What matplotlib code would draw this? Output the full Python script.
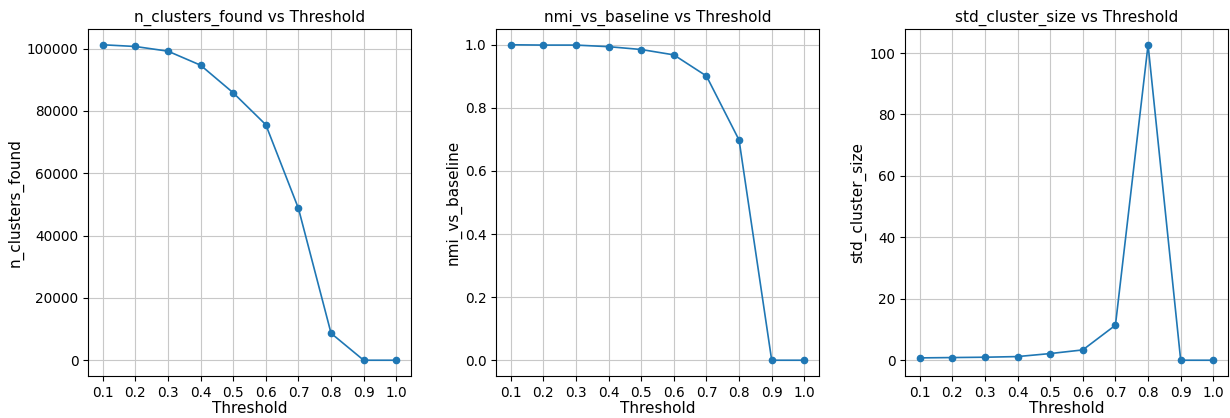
import matplotlib
matplotlib.use('Agg')
import matplotlib.pyplot as plt

thresholds = [0.1, 0.2, 0.3, 0.4, 0.5, 0.6, 0.7, 0.8, 0.9, 1.0]
n_clusters_found = [101200, 100650, 99150, 94650, 85800, 75550, 48700, 8650, 0, 0]
nmi_vs_baseline = [1.0, 0.999, 0.999, 0.994, 0.985, 0.968, 0.901, 0.698, 0.0, 0.0]
std_cluster_size = [0.76, 0.87, 0.98, 1.19, 2.17, 3.36, 11.4, 102.7, 0.0, 0.0]

METRICS = [
    ('n_clusters_found', n_clusters_found),
    ('nmi_vs_baseline', nmi_vs_baseline),
    ('std_cluster_size', std_cluster_size),
]

W, H = 1230, 418
LEFTS = [88, 496, 905]
AX_W = 323
AX_B, AX_T = 376, 29
TICK_SZ, LABEL_SZ, TITLE_SZ = 9.8, 11, 11

fig = plt.figure(figsize=(W / 100, H / 100), dpi=100)

for left, (name, vals) in zip(LEFTS, METRICS):
    ax = fig.add_axes([left / W, (H - AX_B) / H, AX_W / W, (AX_B - AX_T) / H])
    ax.plot(thresholds, vals, marker='o', color='#1f77b4', lw=1.2, ms=4.5)
    ax.set_xticks(thresholds)
    ax.set_xticklabels([f'{t:.1f}' for t in thresholds])
    ax.set_xlabel('Threshold', fontsize=LABEL_SZ, labelpad=1)
    ax.set_ylabel(name, fontsize=LABEL_SZ, labelpad=2)
    ax.set_title(f'{name} vs Threshold', fontsize=TITLE_SZ, pad=5)
    ax.tick_params(axis='both', labelsize=TICK_SZ)
    ax.grid(True, color='#c8c8c8', lw=0.8)

fig.savefig('out.png', dpi=100, facecolor='white')
plt.close()
